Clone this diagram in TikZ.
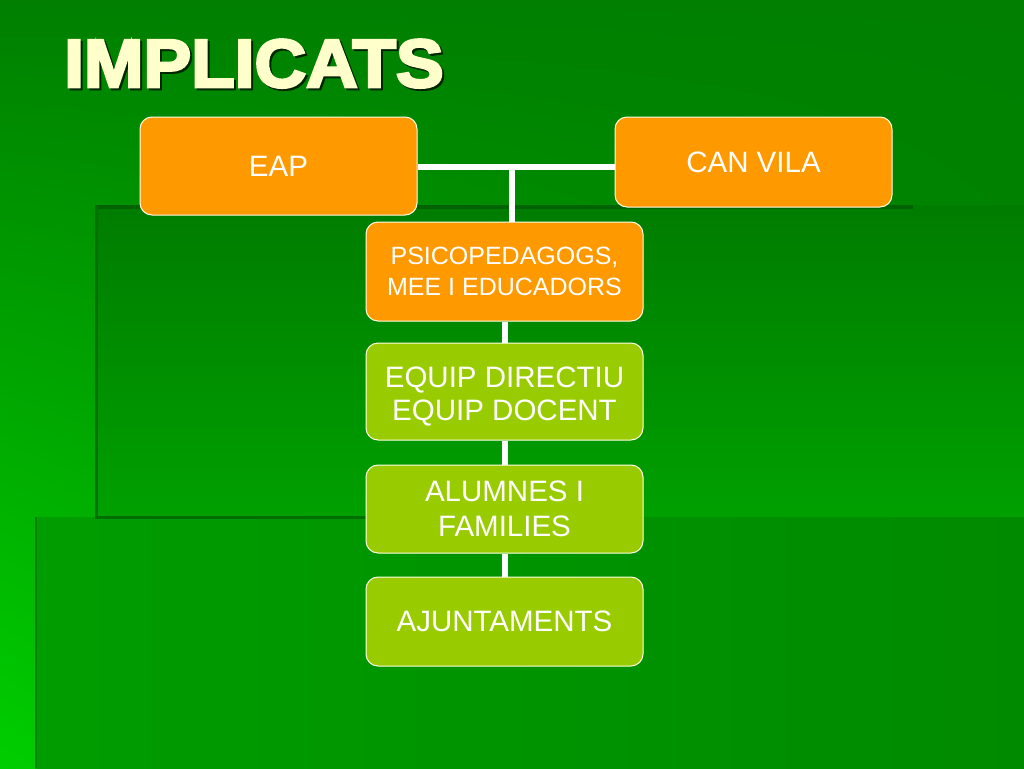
\documentclass[tikz,border=0pt]{standalone}
\usepackage{fontspec}
\setmainfont{Liberation Sans}
\newfontfamily\titlefont[BoldFeatures={FakeBold=4}, FakeStretch=1.05]{Liberation Sans}
\usetikzlibrary{shadings}
\definecolor{boxorange}{RGB}{255,153,0}
\definecolor{boxgreen}{RGB}{153,204,0}
\definecolor{titlecol}{RGB}{255,255,204}
\definecolor{rim}{RGB}{255,255,230}
\definecolor{bgtop}{RGB}{0,127,0}
\definecolor{bgleft}{RGB}{0,206,0}
\definecolor{bgright}{RGB}{0,138,0}
\definecolor{paneltop}{RGB}{0,124,0}
\definecolor{panelbot}{RGB}{0,160,0}
\definecolor{shadowline}{RGB}{0,98,0}
\tikzset{
    box/.style={
            draw=rim,
            line width=1pt,
            fill={#1},
            rounded corners=12pt,
            text=white,
            align=center,
            inner sep=0pt, % size fixed below
            minimum width=277pt
        },
    box/.default={boxorange}
}
\tikzset{
    link/.style={
            draw=white,
            line width=6pt
        }
}
\newcommand{\boxfont}{\fontsize{29.5pt}{33pt}\selectfont}
\newcommand{\smallboxfont}{\fontsize{25pt}{31pt}\selectfont}
\newcommand{\titleshadow}[1]{%
    \rlap{\kern2pt\raisebox{-2pt}{\textcolor{black!70!bgtop}{#1}}}#1}

\begin{document}
\begin{tikzpicture}[x=1pt, y=-1pt]
    \useasboundingbox (0,0) rectangle (1024,768);
    %
    % background panels
    \shade[upper left=bgtop, lower left=bgleft, upper right=bgtop, lower right=bgright]
    (0,0) rectangle (1024,768);
    \shade[top color=paneltop, bottom color=panelbot] (95,205) rectangle (1024,517);
    \shade[left color=panelbot!90!bgtop, right color=bgright] (35,517) rectangle (1024,768);
    \fill[shadowline] (95,205) rectangle (913,209);
    \fill[shadowline!80!panelbot] (95,205) rectangle (98,517);
    \fill[shadowline!80!panelbot] (95,516) rectangle (505,519);
    \fill[bgright!90!black] (35,517) rectangle (37,768);
    %
    % title
    \node[anchor=base west, inner sep=0pt, text=titlecol,
        font=\titlefont\bfseries\fontsize{68pt}{68pt}\selectfont]
    (title) at (64,87) {\titleshadow{IMPLICATS}};
    %
    \coordinate (hub) at (512,167);
    \node[box, minimum height=98pt, font=\boxfont] (eap) at (278.5,166) {EAP};
    \node[box, minimum height=90pt, font=\boxfont] (canvila) at (753.5,162) {CAN VILA};
    \node[box, minimum height=99pt, font=\smallboxfont] (psico) at (504.5,271.5)
    {PSICOPEDAGOGS,\\MEE I EDUCADORS};
    \node[box=boxgreen, minimum height=97pt, font=\boxfont] (equip) at (504.5,391.5)
    {\rule{0pt}{30pt}EQUIP DIRECTIU\\EQUIP DOCENT};
    \node[box=boxgreen, minimum height=88pt, font=\fontsize{29.5pt}{35pt}\selectfont] (alumnes) at (504.5,509)
    {ALUMNES I\\FAMILIES};
    \node[box=boxgreen, minimum height=89pt, font=\boxfont] (ajunt) at (504.5,621.5) {AJUNTAMENTS};
    %
    \path[link]
    (eap.east |- hub) -- (canvila.west |- hub)
    (hub) -- (hub |- psico.north)
    ;
    \draw[link] (psico) -- (equip);
    \draw[link] (equip) -- (alumnes);
    \draw[link] (alumnes) -- (ajunt);
\end{tikzpicture}
\end{document}
